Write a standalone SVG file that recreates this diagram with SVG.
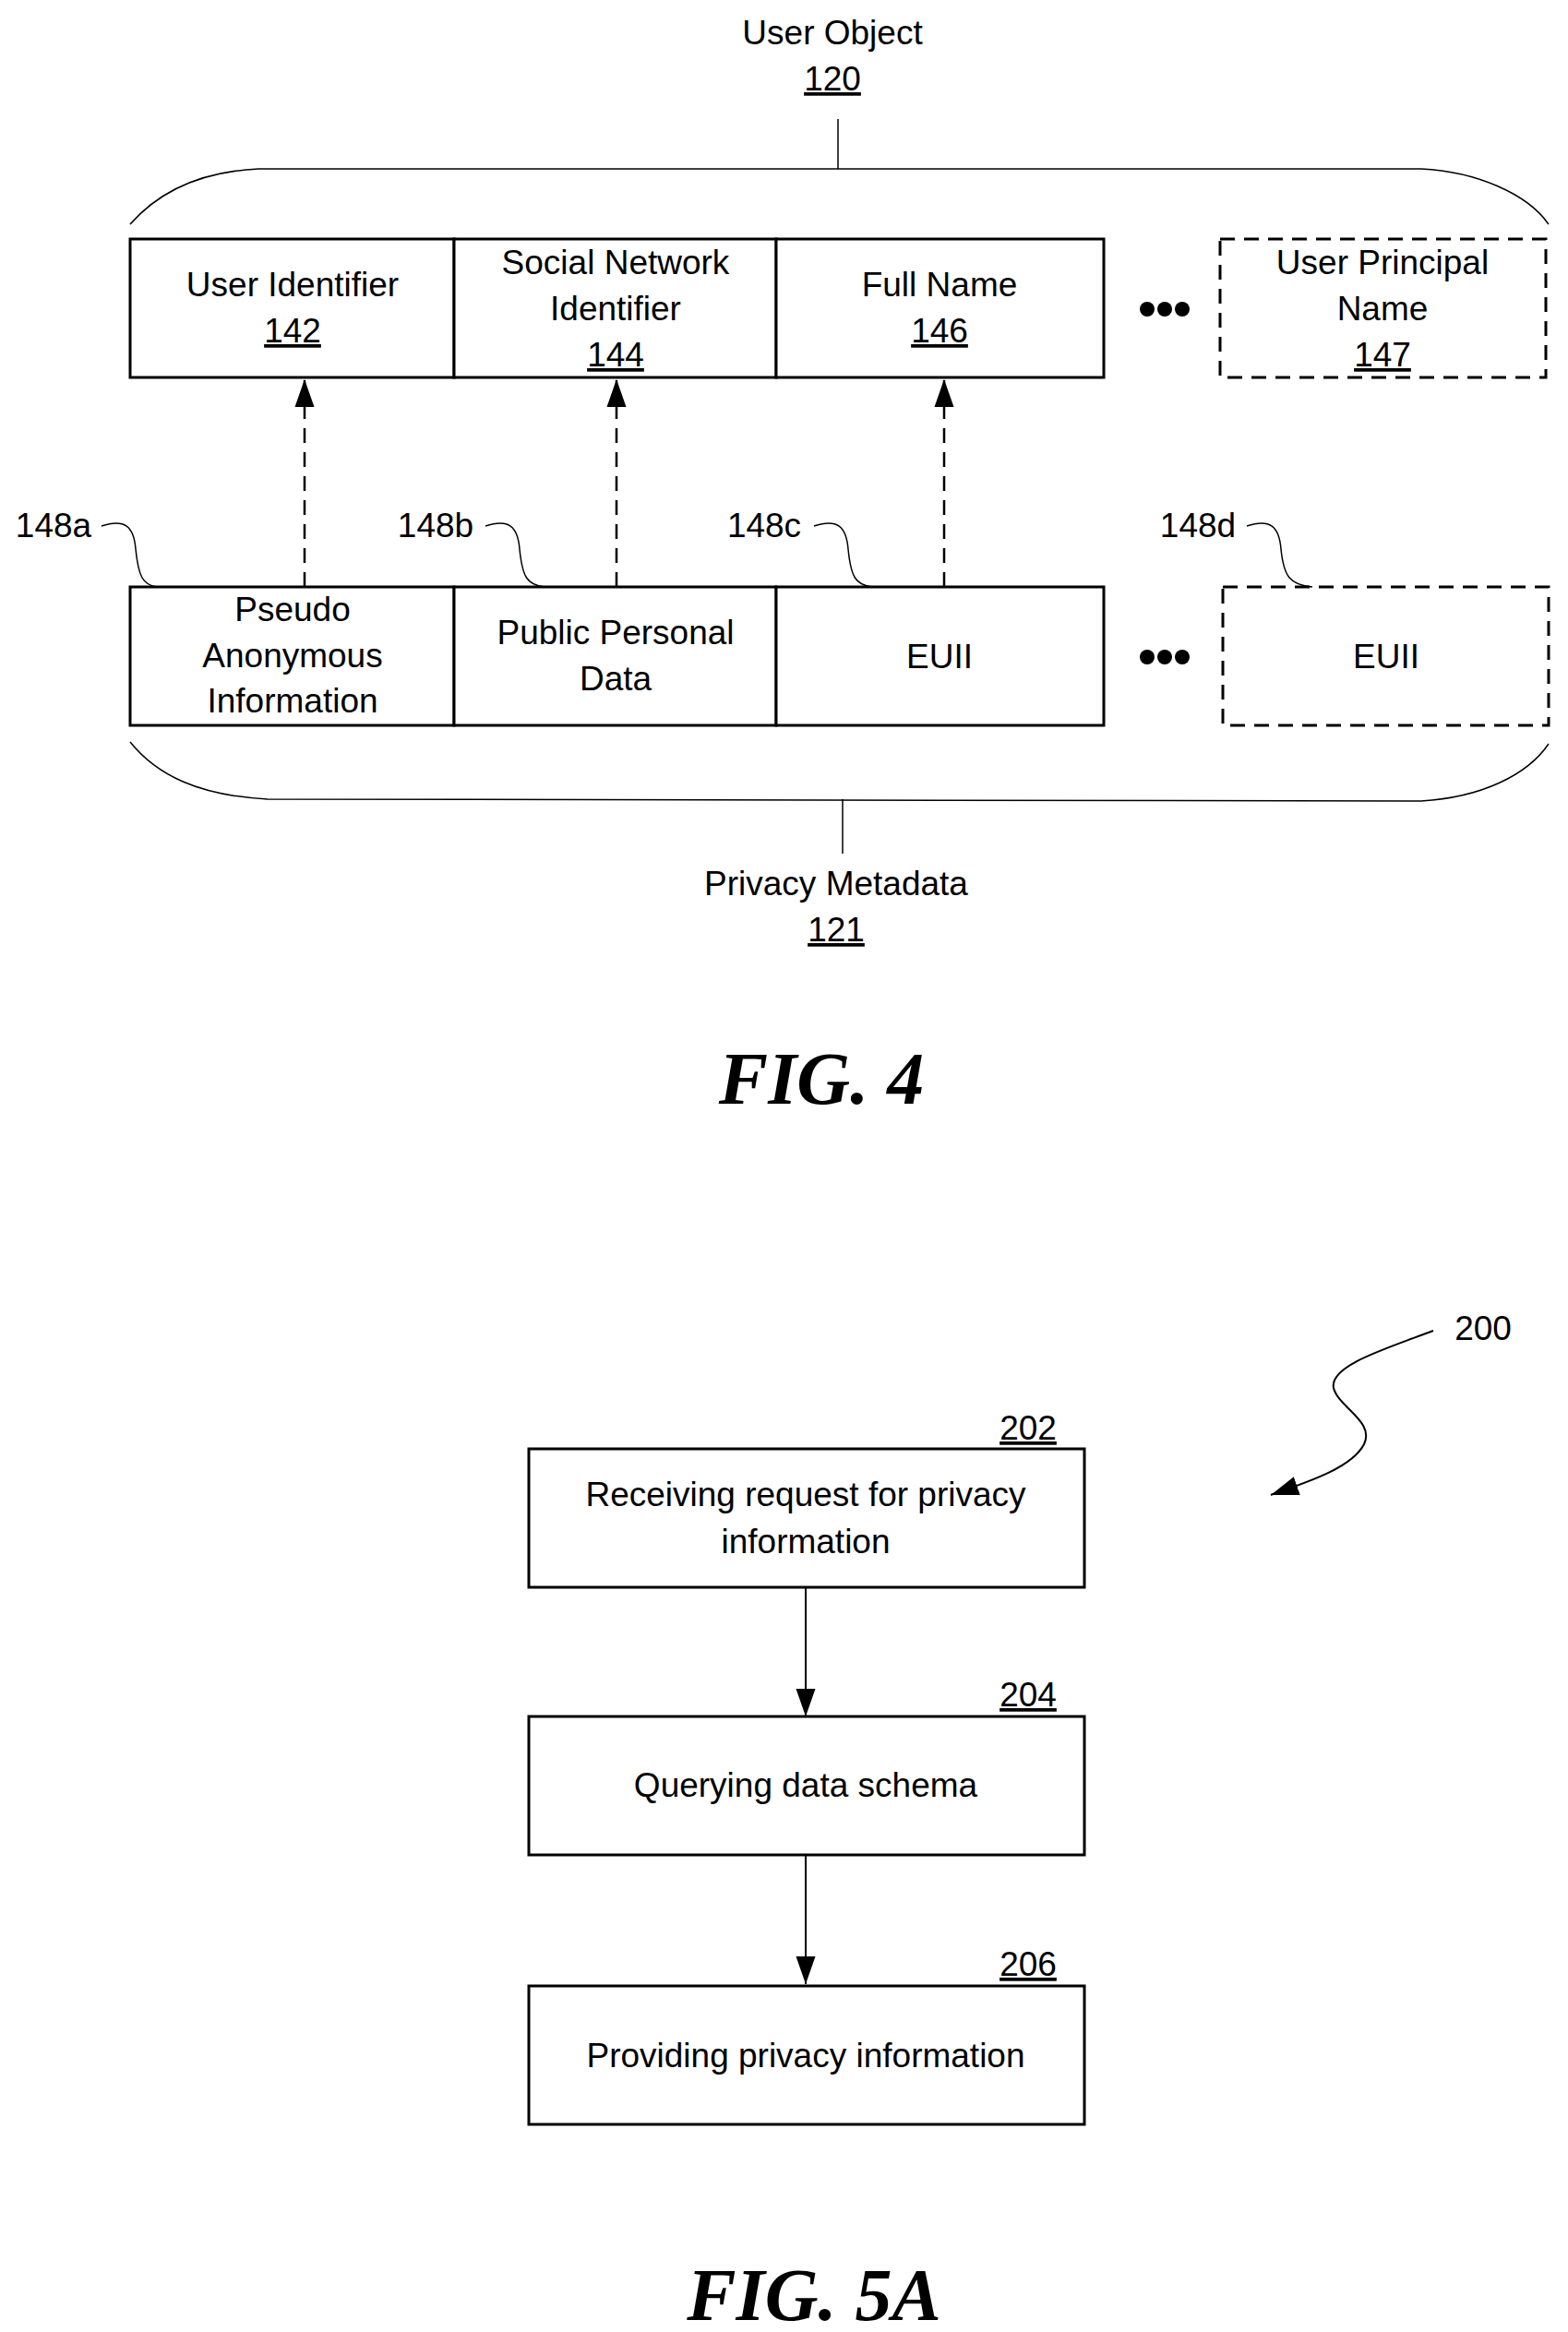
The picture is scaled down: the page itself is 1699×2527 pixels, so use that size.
<svg xmlns="http://www.w3.org/2000/svg" width="1699" height="2527" viewBox="0 0 1699 2527">
<style>
text{font-family:"Liberation Sans",Arial,sans-serif;font-size:37px;fill:#000;text-anchor:middle}
.u{text-decoration:underline}
.box{fill:#fff;stroke:#000;stroke-width:3}
.dbox{fill:#fff;stroke:#000;stroke-width:3;stroke-dasharray:16 10}
.ln{fill:none;stroke:#000;stroke-width:2}
.thin{fill:none;stroke:#000;stroke-width:1.5}
.dash{fill:none;stroke:#000;stroke-width:2.5;stroke-dasharray:16 10}
.fig{font-family:"Liberation Serif","Times New Roman",serif;font-size:80px;font-weight:bold;font-style:italic}
</style>
<defs>
<marker id="ab" viewBox="0 0 10 10" refX="10" refY="5" markerWidth="30" markerHeight="30" markerUnits="userSpaceOnUse" orient="auto"><path d="M0,1.5 L10,5 L0,8.5 Z"/></marker>
</defs>
<g id="container">
<path class="thin" d="M141,243 C170,210 215,186 280,183 L1540,183 C1600,186 1655,210 1678,243"/>
<path class="thin" d="M141,804 C170,840 215,862 290,866 L1540,868 C1605,864 1655,840 1678,806"/>
<line class="thin" x1="908" y1="129" x2="908" y2="183"/>
<line class="thin" x1="913" y1="866" x2="913" y2="925"/>
<text x="902" y="48">User Object</text>
<text class="u" x="902" y="98">120</text>
<text x="906" y="970">Privacy Metadata</text>
<text class="u" x="906" y="1020">121</text>
</g>
<g id="n142"><rect class="box" x="141" y="259" width="351" height="150"/><text x="317" y="321">User Identifier</text><text class="u" x="317" y="371">142</text></g>
<g id="n144"><rect class="box" x="492" y="259" width="349" height="150"/><text x="667" y="297">Social Network</text><text x="667" y="347">Identifier</text><text class="u" x="667" y="397">144</text></g>
<g id="n146"><rect class="box" x="841" y="259" width="355" height="150"/><text x="1018" y="321">Full Name</text><text class="u" x="1018" y="371">146</text></g>
<g id="n147"><rect class="dbox" x="1322" y="259" width="353" height="150"/><text x="1498" y="297">User Principal</text><text x="1498" y="347">Name</text><text class="u" x="1498" y="397">147</text></g>
<g id="n148a"><rect class="box" x="141" y="636" width="351" height="150"/><text x="317" y="673">Pseudo</text><text x="317" y="723">Anonymous</text><text x="317" y="772">Information</text></g>
<g id="n148b"><rect class="box" x="492" y="636" width="349" height="150"/><text x="667" y="698">Public Personal</text><text x="667" y="748">Data</text></g>
<g id="n148c"><rect class="box" x="841" y="636" width="355" height="150"/><text x="1018" y="724">EUII</text></g>
<g id="n148d"><rect class="dbox" x="1325" y="636" width="353" height="150"/><text x="1502" y="724">EUII</text></g>
<g id="dots">
<circle cx="1243" cy="335" r="8"/><circle cx="1262" cy="335" r="8"/><circle cx="1281" cy="335" r="8"/>
<circle cx="1243" cy="712" r="8"/><circle cx="1262" cy="712" r="8"/><circle cx="1281" cy="712" r="8"/>
</g>
<g id="labels">
<text x="58" y="582">148a</text>
<text x="472" y="582">148b</text>
<text x="828" y="582">148c</text>
<text x="1298" y="582">148d</text>
<path class="thin" d="M110,570 C135,562 145,570 147,595 C150,625 155,634 170,636"/>
<path class="thin" d="M526,570 C551,562 561,570 563,595 C566,625 571,634 590,636"/>
<path class="thin" d="M882,570 C907,562 917,570 919,595 C922,625 927,634 945,636"/>
<path class="thin" d="M1351,570 C1376,562 1386,570 1388,595 C1391,625 1398,634 1422,636"/>
</g>
<g id="connectors">
<line class="dash" x1="330" y1="636" x2="330" y2="411" marker-end="url(#ab)"/>
<line class="dash" x1="668" y1="636" x2="668" y2="411" marker-end="url(#ab)"/>
<line class="dash" x1="1023" y1="636" x2="1023" y2="411" marker-end="url(#ab)"/>
<line class="ln" x1="873" y1="1720" x2="873" y2="1860" marker-end="url(#ab)"/>
<line class="ln" x1="873" y1="2010" x2="873" y2="2150" marker-end="url(#ab)"/>
<path class="ln" d="M1553,1442 C1500,1462 1440,1480 1445,1504 C1450,1525 1490,1540 1478,1565 C1465,1590 1420,1605 1377,1620" marker-end="url(#ab)"/>
</g>
<g id="fig4"><text class="fig" x="890" y="1196">FIG. 4</text></g>
<g id="n200"><text x="1607" y="1452">200</text></g>
<g id="n202"><rect class="box" x="573" y="1570" width="602" height="150" stroke-width="2"/><text x="873" y="1632">Receiving request for privacy</text><text x="873" y="1683">information</text><text class="u" x="1114" y="1560">202</text></g>
<g id="n204"><rect class="box" x="573" y="1860" width="602" height="150" stroke-width="2"/><text x="873" y="1947">Querying data schema</text><text class="u" x="1114" y="1849">204</text></g>
<g id="n206"><rect class="box" x="573" y="2152" width="602" height="150" stroke-width="1.5"/><text x="873" y="2240">Providing privacy information</text><text class="u" x="1114" y="2141">206</text></g>
<g id="fig5a"><text class="fig" x="882" y="2514">FIG. 5A</text></g>
</svg>
